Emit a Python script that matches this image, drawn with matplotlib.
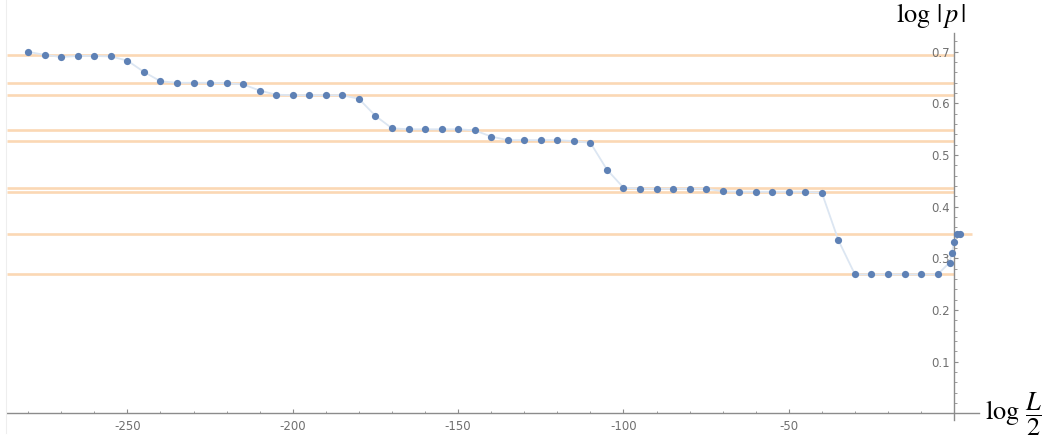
import matplotlib
matplotlib.use("Agg")
import matplotlib.pyplot as plt
from matplotlib.ticker import MultipleLocator, FixedLocator

plt.rcParams['mathtext.fontset'] = 'stix'

# ---- data ----
x_main = [-280, -275, -270, -265, -260, -255, -250, -245, -240, -235,
          -230, -225, -220, -215, -210, -205, -200, -195, -190, -185,
          -180, -175, -170, -165, -160, -155, -150, -145, -140, -135,
          -130, -125, -120, -115, -110, -105, -100, -95, -90, -85,
          -80, -75, -70, -65, -60, -55, -50, -45, -40, -35,
          -30, -25, -20, -15, -10, -5]
y_main = [0.700, 0.694, 0.690, 0.692, 0.692, 0.691, 0.683, 0.661, 0.643, 0.640,
          0.640, 0.640, 0.639, 0.637, 0.625, 0.617, 0.616, 0.616, 0.616, 0.616,
          0.609, 0.576, 0.552, 0.550, 0.550, 0.550, 0.550, 0.548, 0.536, 0.529,
          0.529, 0.529, 0.529, 0.527, 0.524, 0.472, 0.437, 0.435, 0.435, 0.435,
          0.435, 0.435, 0.430, 0.429, 0.429, 0.429, 0.429, 0.429, 0.427, 0.335,
          0.269, 0.269, 0.269, 0.269, 0.269, 0.269]
x_tail = [-1.4, -0.7, 0.0, 1.0, 1.8]
y_tail = [0.292, 0.311, 0.332, 0.347, 0.348]

levels = [0.693, 0.640, 0.616, 0.549, 0.528, 0.436, 0.429, 0.347, 0.269]
level_ends = [0, 0, 0, 0, 0, 0, 0, 5.3, 0]

x_ticks = [-250, -200, -150, -100, -50]
y_ticks = [0.1, 0.2, 0.3, 0.4, 0.5, 0.6, 0.7]

xs = x_main + x_tail
ys = y_main + y_tail

# ---- figure ----
W, H = 1060, 448
fig = plt.figure(figsize=(W / 100, H / 100), dpi=100)
x0, x1 = 6.7, 979.3
ytop, ybot = 32.7, 420.0
ax = fig.add_axes([x0 / W, 1 - ybot / H, (x1 - x0) / W, (ybot - ytop) / H])

xmin, xmax = -286.5, 7.6
ymin, ymax = -0.0128, 0.737
ax.set_xlim(xmin, xmax)
ax.set_ylim(ymin, ymax)

orange = '#FBD8B4'
for lv, xe in zip(levels, level_ends):
    ax.hlines(lv, xmin, xe, color=orange, lw=1.9, zorder=1)

blue = '#5E81B5'
ax.plot(xs, ys, color='#DCE6F2', lw=1.3, zorder=2)
ax.plot(xs, ys, 'o', color=blue, ms=5.2, mec='none', zorder=3)

# axes through origin
for s in ['top', 'right']:
    ax.spines[s].set_visible(False)
ax.spines['left'].set_position(('data', 0))
ax.spines['bottom'].set_position(('data', 0))
axis_col = '#8c8c8c'
for s in ['left', 'bottom']:
    ax.spines[s].set_color(axis_col)
    ax.spines[s].set_linewidth(1.0)

ax.xaxis.set_major_locator(FixedLocator(x_ticks))
ax.xaxis.set_minor_locator(MultipleLocator(10))
ax.yaxis.set_major_locator(FixedLocator(y_ticks))
ax.yaxis.set_minor_locator(MultipleLocator(0.02))
ax.set_xticklabels([str(v) for v in x_ticks])
ax.set_yticklabels([f"{v:.1f}" for v in y_ticks])

ax.tick_params(axis='both', which='major', direction='in', length=3.0, width=0.8,
               color=axis_col, labelsize=8.5, labelcolor='#707070')
ax.tick_params(axis='both', which='minor', direction='in', length=1.8, width=0.6,
               color=axis_col)
ax.tick_params(axis='x', which='major', pad=5)
ax.tick_params(axis='y', which='major', pad=3)
ax.patch.set_alpha(0)

# axis labels
fig.text(931 / W, 1 - 16 / H, r'$\log\,|\,p\,|$', ha='center', va='center',
         fontsize=19, color='black')
fig.text(985 / W, 1 - 414 / H, r'$\log\,\dfrac{L}{2}$', ha='left', va='center',
         fontsize=19, color='black')

# faint left border line
fig.add_artist(plt.Line2D([6 / W, 6 / W], [1 - 433 / H, 1.0], transform=fig.transFigure,
                          color='#eeeeee', lw=0.8))

fig.savefig('out.png', dpi=100)
